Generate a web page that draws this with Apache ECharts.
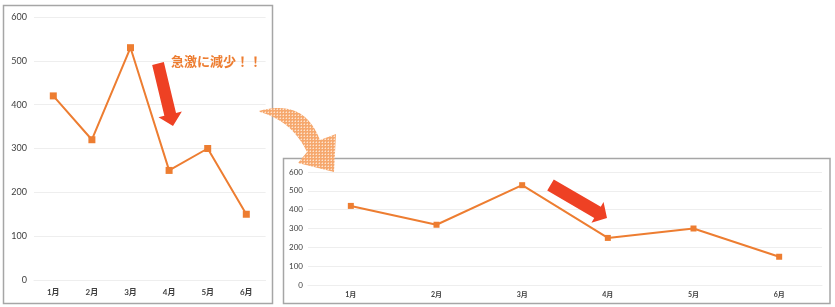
<!DOCTYPE html>
<html><head><meta charset="utf-8">
<script src="https://cdn.jsdelivr.net/npm/echarts@6/dist/echarts.min.js"></script>
<style>html,body{margin:0;padding:0;background:#fff}#c{width:835px;height:307px}</style>
</head><body><div id="c"></div>
<script>
const months = ['1月','2月','3月','4月','5月','6月'];
const values = [420, 320, 530, 250, 300, 150];
const yTicks = [0, 100, 200, 300, 400, 500, 600];
const note = '急激に減少！！';

const ORANGE = '#ED7D31';
const RED = '#EE4124';
const FONT = "Lato, 'Noto Sans CJK JP', sans-serif";

// pattern for the curved arrow
const pc = document.createElement('canvas');
pc.width = 3; pc.height = 3;
const px = pc.getContext('2d');
px.fillStyle = '#F6A86E'; px.fillRect(0,0,3,3);
px.fillStyle = '#FDE4D0'; px.fillRect(1,1,1,1);
px.fillStyle = '#F9C49C'; px.fillRect(0,1,1,1); px.fillRect(1,0,1,1);

function arrowPoly(sx, sy, tx, ty, shaftHalf, headHalf, headLen) {
  const dx = tx - sx, dy = ty - sy, L = Math.hypot(dx, dy);
  const ux = dx / L, uy = dy / L, pxv = -uy, pyv = ux;
  const bx = tx - ux * headLen, by = ty - uy * headLen;
  return [
    [sx + pxv*shaftHalf, sy + pyv*shaftHalf],
    [bx + pxv*shaftHalf, by + pyv*shaftHalf],
    [bx + pxv*headHalf, by + pyv*headHalf],
    [tx, ty],
    [bx - pxv*headHalf, by - pyv*headHalf],
    [bx - pxv*shaftHalf, by - pyv*shaftHalf],
    [sx - pxv*shaftHalf, sy - pyv*shaftHalf]
  ];
}
function quad(p0, c, p1, n) {
  const pts = [];
  for (let i = 0; i <= n; i++) {
    const t = i / n, a = (1-t)*(1-t), b = 2*(1-t)*t, d = t*t;
    pts.push([a*p0[0]+b*c[0]+d*p1[0], a*p0[1]+b*c[1]+d*p1[1]]);
  }
  return pts;
}
const curvePts = [].concat(
  quad([259,111],[304,98],[320,140],20),
  [[336,134],[334,172],[298,163]],
  quad([307,152],[292,121],[260,112],20)
);

const chart = echarts.init(document.getElementById('c'), null, {renderer: 'canvas'});
const axisLabelCommon = {color: '#404040', fontFamily: FONT};
chart.setOption({
  animation: false,
  grid: [
    {left: 34, top: 17, width: 231.6, height: 263},
    {left: 308, top: 172, width: 514, height: 113}
  ],
  xAxis: [
    {type: 'category', gridIndex: 0, data: months, boundaryGap: true,
     axisLine: {show: true, lineStyle: {color: '#EEEEEE'}}, axisTick: {show: false},
     axisLabel: Object.assign({fontSize: 8, fontWeight: 'bold', margin: 8}, axisLabelCommon)},
    {type: 'category', gridIndex: 1, data: months, boundaryGap: true,
     axisLine: {show: true, lineStyle: {color: '#EEEEEE'}}, axisTick: {show: false},
     axisLabel: Object.assign({fontSize: 7, fontWeight: 'bold', margin: 6}, axisLabelCommon)}
  ],
  yAxis: [
    {type: 'value', gridIndex: 0, min: yTicks[0], max: yTicks[yTicks.length-1], interval: 100,
     axisLine: {show: false}, axisTick: {show: false},
     splitLine: {lineStyle: {color: '#EEEEEE'}},
     axisLabel: Object.assign({fontSize: 9, margin: 7}, axisLabelCommon)},
    {type: 'value', gridIndex: 1, min: yTicks[0], max: yTicks[yTicks.length-1], interval: 100,
     axisLine: {show: false}, axisTick: {show: false},
     splitLine: {lineStyle: {color: '#EEEEEE'}},
     axisLabel: Object.assign({fontSize: 8, margin: 5}, axisLabelCommon)}
  ],
  series: [
    {type: 'line', xAxisIndex: 0, yAxisIndex: 0, data: values,
     symbol: 'rect', symbolSize: 7, lineStyle: {color: ORANGE, width: 2},
     itemStyle: {color: ORANGE}},
    {type: 'line', xAxisIndex: 1, yAxisIndex: 1, data: values,
     symbol: 'rect', symbolSize: 6, lineStyle: {color: ORANGE, width: 2},
     itemStyle: {color: ORANGE}}
  ],
  graphic: [
    {type: 'rect', z: 0, shape: {x: 3.5, y: 5.5, width: 269, height: 298},
     style: {fill: 'none', stroke: '#A6A6A6', lineWidth: 1.5}},
    {type: 'rect', z: 0, shape: {x: 283.5, y: 158.5, width: 546.5, height: 145},
     style: {fill: 'none', stroke: '#A6A6A6', lineWidth: 1.5}},
    {type: 'polygon', z: 10, shape: {points: arrowPoly(158, 63.5, 173, 126, 6, 12, 12)},
     style: {fill: RED}},
    {type: 'polygon', z: 10, shape: {points: arrowPoly(550.5, 185, 607, 218, 6.5, 12, 11)},
     style: {fill: RED}},
    {type: 'text', z: 10, x: 171, y: 55,
     style: {text: note, fill: ORANGE, font: "bold 13px 'Noto Sans CJK JP', sans-serif"}},
    {type: 'polygon', z: 20, shape: {points: curvePts},
     style: {fill: {image: pc, repeat: 'repeat'}}}
  ]
});
</script></body></html>
